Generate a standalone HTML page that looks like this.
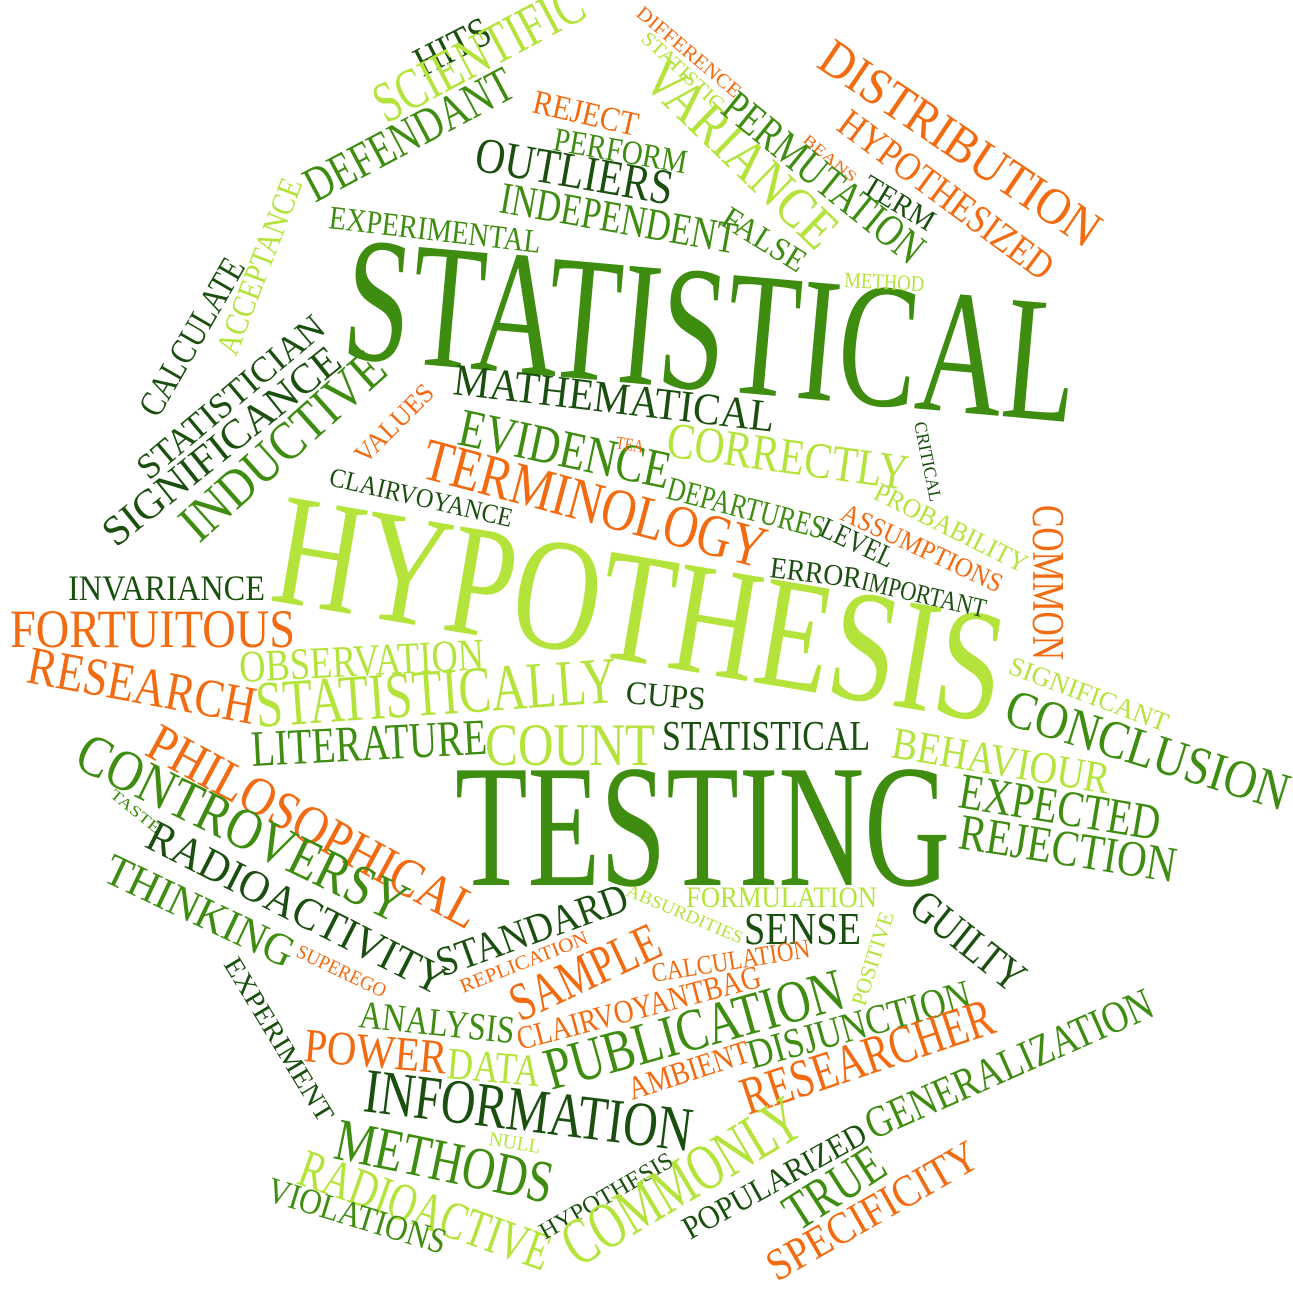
<!DOCTYPE html>
<html><head><meta charset="utf-8">
<style>
html,body{margin:0;padding:0;background:#fff;}
svg{display:block;}
text{font-family:"Liberation Serif",serif;}
</style></head>
<body>
<svg id="cloud" width="1293" height="1300" viewBox="0 0 1293 1300" xmlns="http://www.w3.org/2000/svg"></svg>
<script>
const C = {D:"#1b4f0f", M:"#3e8c10", L:"#b4e43c", O:"#f26b11"};
// [text, x, y, fontSize, angle, colorKey, length]
const words = [
["STATISTICAL",340,357,178,5.1,"M",735],
["HYPOTHESIS",268,600,160,9.6,"L",737],
["TESTING",455,885,175,0,"M",495],
["HITS",423,77,42,-27,"D",80],
["SCIENTIFIC",386,124,58,-28,"L",230],
["DEFENDANT",315,203,50,-28,"M",230],
["REJECT",531,112,34,13,"O",107],
["PERFORM",552,150,34,10,"M",135],
["OUTLIERS",473,170,50,10,"D",200],
["INDEPENDENT",498,212,45,10,"M",240],
["EXPERIMENTAL",328,228,33,6.7,"M",213],
["ACCEPTANCE",236,357,33,-69,"L",186],
["CALCULATE",158,419,36,-60,"D",176],
["STATISTICIAN",149,481,36,-40,"D",233],
["SIGNIFICANCE",116,548,42,-38.7,"D",292],
["INDUCTIVE",199,544,54,-41.8,"M",256],
["VALUES",365,465,27,-45,"O",100],
["CLAIRVOYANCE",328,485,27,13,"D",187],
["MATHEMATICAL",452,394,45,6.7,"D",323],
["EVIDENCE",456,444,54,12,"M",215],
["TERMINOLOGY",419,477,60,15,"O",353],
["TEA",615,448,18,10,"O",28],
["CORRECTLY",665,456,51,8,"L",243],
["DEPARTURES",665,498,33,14.6,"M",162],
["LEVEL",818,535,30,25,"D",78],
["ERROR",769,577,30,7,"D",92],
["IMPORTANT",860,589,27,13,"D",127],
["ASSUMPTIONS",839,519,27,25,"O",175],
["PROBABILITY",872,498,27,26.6,"L",168],
["CRITICAL",914,423,18,78.5,"D",81],
["COMMON",1033,505,45,90,"O",155],
["METHOD",844,287,22,3,"L",80],
["DIFFERENCE",635,15,20,40,"O",130],
["STATISTIC",640,40,20,43,"L",105],
["VARIANCE",640,82,57,44,"L",245],
["PERMUTATION",719,112,45,38.9,"M",245],
["FALSE",719,224,33,32,"M",93],
["BEANS",802,141,15,40,"O",65],
["TERM",860,191,30,31,"D",79],
["DISTRIBUTION",815,66,52,34,"O",327],
["HYPOTHESIZED",835,129,40,36.5,"O",257],
["INVARIANCE",68,600,36,0,"D",197],
["FORTUITOUS",10,647,54,0,"O",285],
["OBSERVATION",240,682,45,-3,"L",245],
["RESEARCH",25,682,54,10.5,"O",231],
["STATISTICALLY",257,727,66,-4,"L",362],
["CUPS",625,703,33,5,"D",80],
["LITERATURE",252,766,51,-3,"M",236],
["COUNT",485,765,60,0,"L",170],
["STATISTICAL",662,750,42,0,"D",208],
["BEHAVIOUR",890,757,45,9.6,"L",220],
["SIGNIFICANT",1007,673,27,20.5,"L",168],
["CONCLUSION",1002,723,54,17.4,"M",294],
["EXPECTED",957,807,51,9.4,"M",203],
["REJECTION",957,848,51,9,"M",219],
["PHILOSOPHICAL",143,754,54,28.5,"O",369],
["CONTROVERSY",72,766,58,26,"M",360],
["TASTE",109,796,15,39,"M",60],
["RADIOACTIVITY",143,846,45,27,"D",331],
["THINKING",101,880,45,25.5,"M",205],
["SUPEREGO",295,956,20,25.5,"O",97],
["EXPERIMENT",223,964,27,58.8,"D",187],
["STANDARD",442,977,42,-19.8,"D",201],
["REPLICATION",463,993,20,-21.6,"O",136],
["ABSURDITIES",625,895,18,23,"L",125],
["FORMULATION",686,907,30,0,"L",191],
["SENSE",744,944,45,0,"D",117],
["POSITIVE",865,1007,22,-72.5,"L",97],
["GUILTY",907,911,45,38.6,"D",133],
["SAMPLE",520,1022,54,-25,"O",160],
["CALCULATION",653,982,27,-9,"O",160],
["CLAIRVOYANTBAG",520,1050,33,-14.7,"O",251],
["ANALYSIS",358,1027,39,6,"M",156],
["POWER",303,1061,48,5,"O",143],
["DATA",446,1078,45,5,"L",93],
["PUBLICATION",551,1090,60,-15.6,"M",308],
["AMBIENT",632,1100,33,-18,"O",126],
["DISJUNCTION",752,1069,42,-15.7,"M",230],
["RESEARCHER",748,1115,54,-18.4,"O",263],
["GENERALIZATION",873,1140,45,-23.8,"M",310],
["INFORMATION",362,1111,63,7,"D",330],
["METHODS",332,1158,60,11.8,"M",221],
["NULL",488,1145,20,9,"L",52],
["RADIOACTIVE",295,1183,54,19.5,"L",263],
["VIOLATIONS",265,1200,36,17,"M",185],
["HYPOTHESIS",545,1240,24,-30,"D",150],
["COMMONLY",578,1268,66,-30.7,"L",266],
["POPULARIZED",690,1240,33,-29,"D",205],
["TRUE",798,1232,54,-32.7,"M",109],
["SPECIFICITY",777,1282,45,-29.7,"O",236]
];
const svg = document.getElementById('cloud');
const NS = "http://www.w3.org/2000/svg";
words.forEach(w => {
  const t = document.createElementNS(NS, 'text');
  t.setAttribute('x', w[1]);
  t.setAttribute('y', w[2]);
  t.setAttribute('font-size', w[3]);
  t.setAttribute('fill', C[w[5]]);
  t.setAttribute('textLength', w[6]);
  t.setAttribute('lengthAdjust', 'spacingAndGlyphs');
  t.setAttribute('transform', 'rotate(' + w[4] + ' ' + w[1] + ' ' + w[2] + ')');
  
  
  t.textContent = w[0];
  svg.appendChild(t);
});
</script>
</body></html>
